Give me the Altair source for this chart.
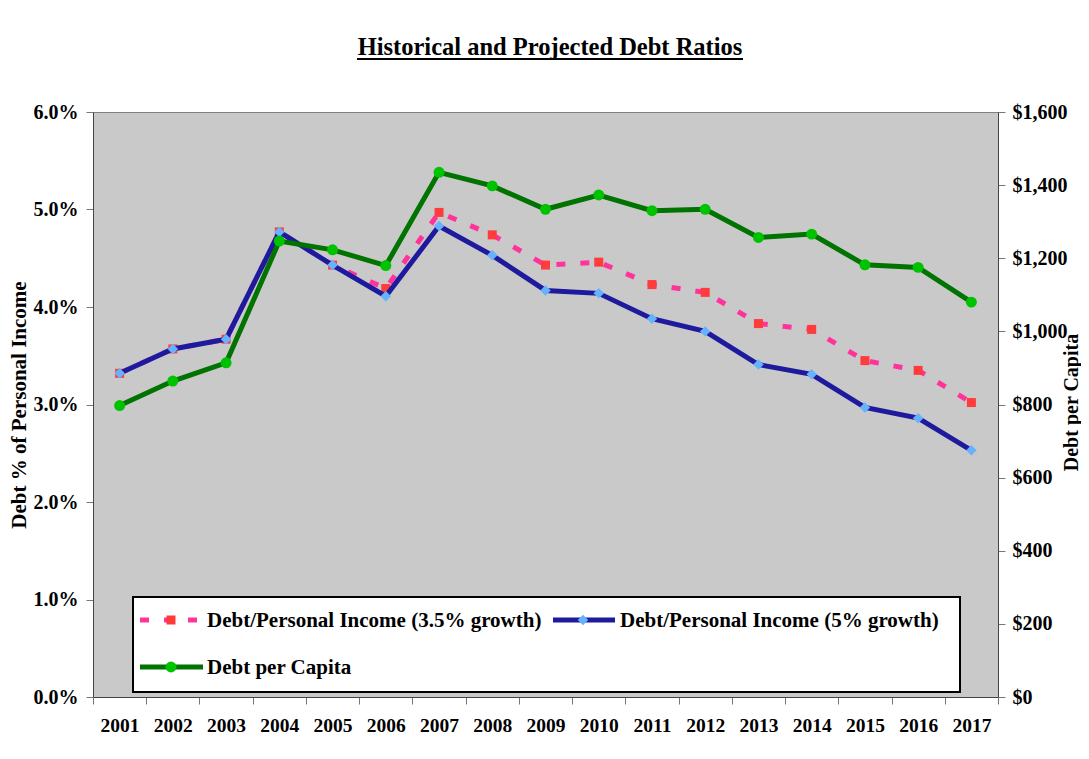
import altair as alt
import pandas as pd

years = [str(y) for y in range(2001, 2018)]
pi_35_growth = [3.32, 3.57, 3.67, 4.77, 4.43, 4.19, 4.97, 4.74, 4.43, 4.46, 4.23, 4.15, 3.83, 3.77, 3.45, 3.35, 3.02]
pi_5_growth = [3.32, 3.57, 3.67, 4.77, 4.43, 4.11, 4.83, 4.53, 4.17, 4.14, 3.88, 3.75, 3.41, 3.31, 2.97, 2.86, 2.53]
per_capita = [797, 864, 914, 1247, 1223, 1180, 1435, 1398, 1334, 1373, 1330, 1334, 1257, 1266, 1182, 1175, 1080]

title_text = "Historical and Projected Debt Ratios"
legend_labels = ["Debt/Personal Income (3.5% growth)", "Debt/Personal Income (5% growth)", "Debt per Capita"]
left_title = "Debt % of Personal Income"
right_title = "Debt per Capita"

FONT = "Liberation Serif"
PINK, RED = "#FF3399", "#FF3B3B"
NAVY, LBLUE = "#1E1A9E", "#66B2FF"
DGREEN, LGREEN = "#007300", "#00C300"

df = pd.DataFrame({"year": years, "pi35": pi_35_growth, "pi5": pi_5_growth, "pc": per_capita})

x_enc = alt.X(
    "year:O",
    scale=alt.Scale(type="band", paddingInner=0, paddingOuter=0),
    bandPosition=0.5,
    axis=alt.Axis(title=None, labelAngle=0, labelFont=FONT, labelFontSize=19.5, labelFontWeight="bold",
                  labelColor="black", tickBand="extent", tickSize=7, tickColor="#777777",
                  domainColor="#444444", labelPadding=12, grid=False),
)

pct_scale = alt.Scale(domain=[0, 6], nice=False, zero=True)
usd_scale = alt.Scale(domain=[0, 1600], nice=False, zero=True)

left_axis = alt.Axis(values=[0, 1, 2, 3, 4, 5, 6], labelExpr="format(datum.value, '.1f') + '%'",
                     title=left_title, titleFont=FONT, titleFontSize=21, titleFontWeight="bold",
                     titleColor="black", titlePadding=4, labelFont=FONT, labelFontSize=20,
                     labelFontWeight="bold", labelColor="black", tickSize=7, tickColor="#777777",
                     domainColor="#444444", labelPadding=8, grid=False)
right_axis = alt.Axis(orient="right", values=[0, 200, 400, 600, 800, 1000, 1200, 1400, 1600],
                      format="$,.0f", title=right_title, titleFont=FONT, titleFontSize=20,
                      titleFontWeight="bold", titleColor="black", titleAngle=270, titleBaseline="middle",
                      titleAlign="center", titleX=73, titleY=290,
                      labelFont=FONT, labelFontSize=20, labelFontWeight="bold",
                      labelColor="black", tickSize=7, tickColor="#777777", domainColor="#444444",
                      labelPadding=7, grid=False)

base = alt.Chart(df)

red_line = base.mark_line(color=PINK, strokeWidth=5, strokeDash=[9, 15]).encode(
    x=x_enc, y=alt.Y("pi35:Q", scale=pct_scale, axis=left_axis))
red_pts = base.mark_point(shape="square", filled=True, color=RED, size=81, opacity=1).encode(
    x=x_enc, y=alt.Y("pi35:Q", scale=pct_scale, axis=None))
blue_line = base.mark_line(color=NAVY, strokeWidth=5).encode(
    x=x_enc, y=alt.Y("pi5:Q", scale=pct_scale, axis=None))
blue_pts = base.mark_point(shape="diamond", filled=True, color=LBLUE, size=110, opacity=1).encode(
    x=x_enc, y=alt.Y("pi5:Q", scale=pct_scale, axis=None))
green_line = base.mark_line(color=DGREEN, strokeWidth=5).encode(
    x=x_enc, y=alt.Y("pc:Q", scale=usd_scale, axis=right_axis))
green_pts = base.mark_point(shape="circle", filled=True, color=LGREEN, size=120, opacity=1).encode(
    x=x_enc, y=alt.Y("pc:Q", scale=usd_scale, axis=None))

one = pd.DataFrame({"k": [1]})

# Title with underline
title = alt.Chart(pd.DataFrame({"t": [title_text]})).mark_text(
    font=FONT, fontSize=24.5, fontWeight="bold", color="black", align="center", baseline="alphabetic"
).encode(x=alt.value(457), y=alt.value(-57), text="t:N")
underline = alt.Chart(one).mark_rule(color="black", strokeWidth=1.8).encode(
    x=alt.value(264), x2=alt.value(650), y=alt.value(-53))

# Legend
box = alt.Chart(one).mark_rect(fill="white", stroke="black", strokeWidth=2).encode(
    x=alt.value(40), x2=alt.value(867), y=alt.value(485), y2=alt.value(580))
leg_red_line = alt.Chart(one).mark_rule(color=PINK, strokeWidth=5, strokeDash=[9, 15]).encode(
    x=alt.value(47), x2=alt.value(110), y=alt.value(508))
leg_red_pt = alt.Chart(one).mark_point(shape="square", filled=True, color=RED, size=81, opacity=1).encode(
    x=alt.value(78), y=alt.value(508))
leg_blue_line = alt.Chart(one).mark_rule(color=NAVY, strokeWidth=5).encode(
    x=alt.value(460), x2=alt.value(522), y=alt.value(508))
leg_blue_pt = alt.Chart(one).mark_point(shape="diamond", filled=True, color=LBLUE, size=110, opacity=1).encode(
    x=alt.value(490), y=alt.value(508))
leg_green_line = alt.Chart(one).mark_rule(color=DGREEN, strokeWidth=5).encode(
    x=alt.value(47), x2=alt.value(110), y=alt.value(555))
leg_green_pt = alt.Chart(one).mark_point(shape="circle", filled=True, color=LGREEN, size=120, opacity=1).encode(
    x=alt.value(78), y=alt.value(555))

def leg_text(label, x, y):
    return alt.Chart(pd.DataFrame({"t": [label]})).mark_text(
        font=FONT, fontSize=21, fontWeight="bold", color="black", align="left", baseline="middle"
    ).encode(x=alt.value(x), y=alt.value(y), text="t:N")

leg_t1 = leg_text(legend_labels[0], 114, 509)
leg_t2 = leg_text(legend_labels[1], 527, 509)
leg_t3 = leg_text(legend_labels[2], 114, 556)

chart = alt.layer(
    red_line, red_pts, blue_line, blue_pts, green_line, green_pts,
    box, leg_red_line, leg_red_pt, leg_blue_line, leg_blue_pt, leg_green_line, leg_green_pt,
    leg_t1, leg_t2, leg_t3, title, underline
).resolve_scale(y="independent").properties(
    width=905, height=585,
    background="white",
    autosize=alt.AutoSizeParams(type="none"),
    padding={"left": 85, "top": 104, "right": 83, "bottom": 54},
).configure_view(
    fill="#C9C9C9", stroke="#808080", strokeWidth=1
)

chart.save("out.html", embed_options={"renderer": "svg", "actions": False})
